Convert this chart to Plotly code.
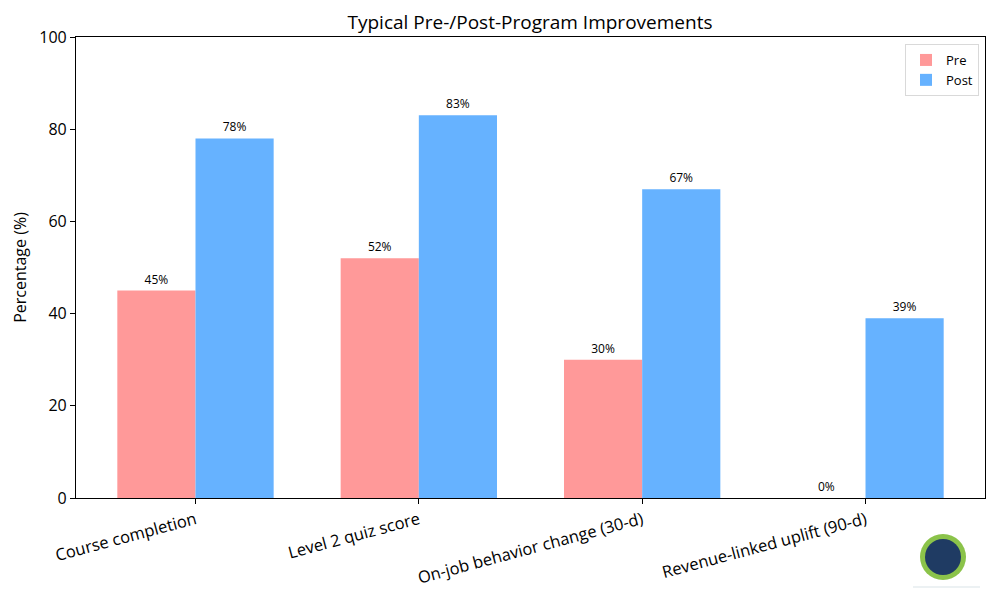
import plotly.graph_objects as go

categories = ["Course completion", "Level 2 quiz score", "On-job behavior change (30-d)", "Revenue-linked uplift (90-d)"]
pre_values = [45, 52, 30, 0]
post_values = [78, 83, 67, 39]
y_ticks = [0, 20, 40, 60, 80, 100]

FONT = "Open Sans"
OFF = 8  # page body margin offset

fig = go.Figure()
fig.add_trace(go.Bar(
    name="Pre", x=categories, y=pre_values, marker=dict(color="#FF9999", line=dict(width=0)),
    texttemplate="%{y:.0f}%", textposition="outside", textfont=dict(size=12, color="black"),
    cliponaxis=False,
))
fig.add_trace(go.Bar(
    name="Post", x=categories, y=post_values, marker=dict(color="#66B2FF", line=dict(width=0)),
    texttemplate="%{y:.0f}%", textposition="outside", textfont=dict(size=12, color="black"),
    cliponaxis=False,
))

W, H = 1000, 600
# target plot area in page pixels: x 76..985, y 37..498
L = 76 - OFF
T = 37 - OFF
R = W - (985 - OFF)
B = H - (498 - OFF)
pw, ph = W - L - R, H - T - B

def px_x(px):
    return (px - OFF - L) / pw

def px_y(py):
    return (H - B - (py - OFF)) / ph

# logo approximation
cx, cy = 943, 557
for r, col in [(23, "#8BC34A"), (18, "#1F3B63")]:
    fig.add_shape(type="circle", xref="paper", yref="paper",
                  x0=px_x(cx - r), x1=px_x(cx + r), y0=px_y(cy + r), y1=px_y(cy - r),
                  fillcolor=col, line=dict(width=0), layer="above")
fig.add_shape(type="line", xref="paper", yref="paper",
              x0=px_x(913), x1=px_x(980), y0=px_y(587), y1=px_y(587),
              line=dict(color="#E6ECEF", width=1.5))

fig.update_layout(
    width=W, height=H,
    margin=dict(l=L, r=R, t=T, b=B, autoexpand=False),
    paper_bgcolor="white", plot_bgcolor="white",
    font=dict(family=FONT, color="black"),
    barmode="group", bargap=0.3, bargroupgap=0,
    title=dict(text="Typical Pre-/Post-Program Improvements", x=px_x(530), xanchor="center", xref="paper",
               y=1 - (22 - OFF) / H, yanchor="middle", font=dict(size=19, family=FONT)),
    legend=dict(x=px_x(979), y=px_y(44), xanchor="right", yanchor="top",
                bordercolor="#D9D9D9", borderwidth=1, bgcolor="rgba(255,255,255,0.8)",
                font=dict(size=13), tracegroupgap=0),
    showlegend=True,
)
fig.update_xaxes(
    range=[-0.535, 3.535], tickangle=-15, showline=True, linecolor="black", linewidth=1.2,
    mirror=True, ticks="outside", ticklen=5, tickcolor="black", showgrid=False,
    tickfont=dict(size=16.5, family=FONT), automargin=False,
)
fig.update_yaxes(
    range=[0, 100], tickvals=y_ticks, showline=True, linecolor="black", linewidth=1.2,
    mirror=True, ticks="outside", ticklen=5, tickcolor="black", showgrid=False, zeroline=False,
    tickfont=dict(size=16, family=FONT), automargin=False,
    title=dict(text="Percentage (%)", font=dict(size=16, family=FONT), standoff=8),
)

fig.write_html("out.html")
